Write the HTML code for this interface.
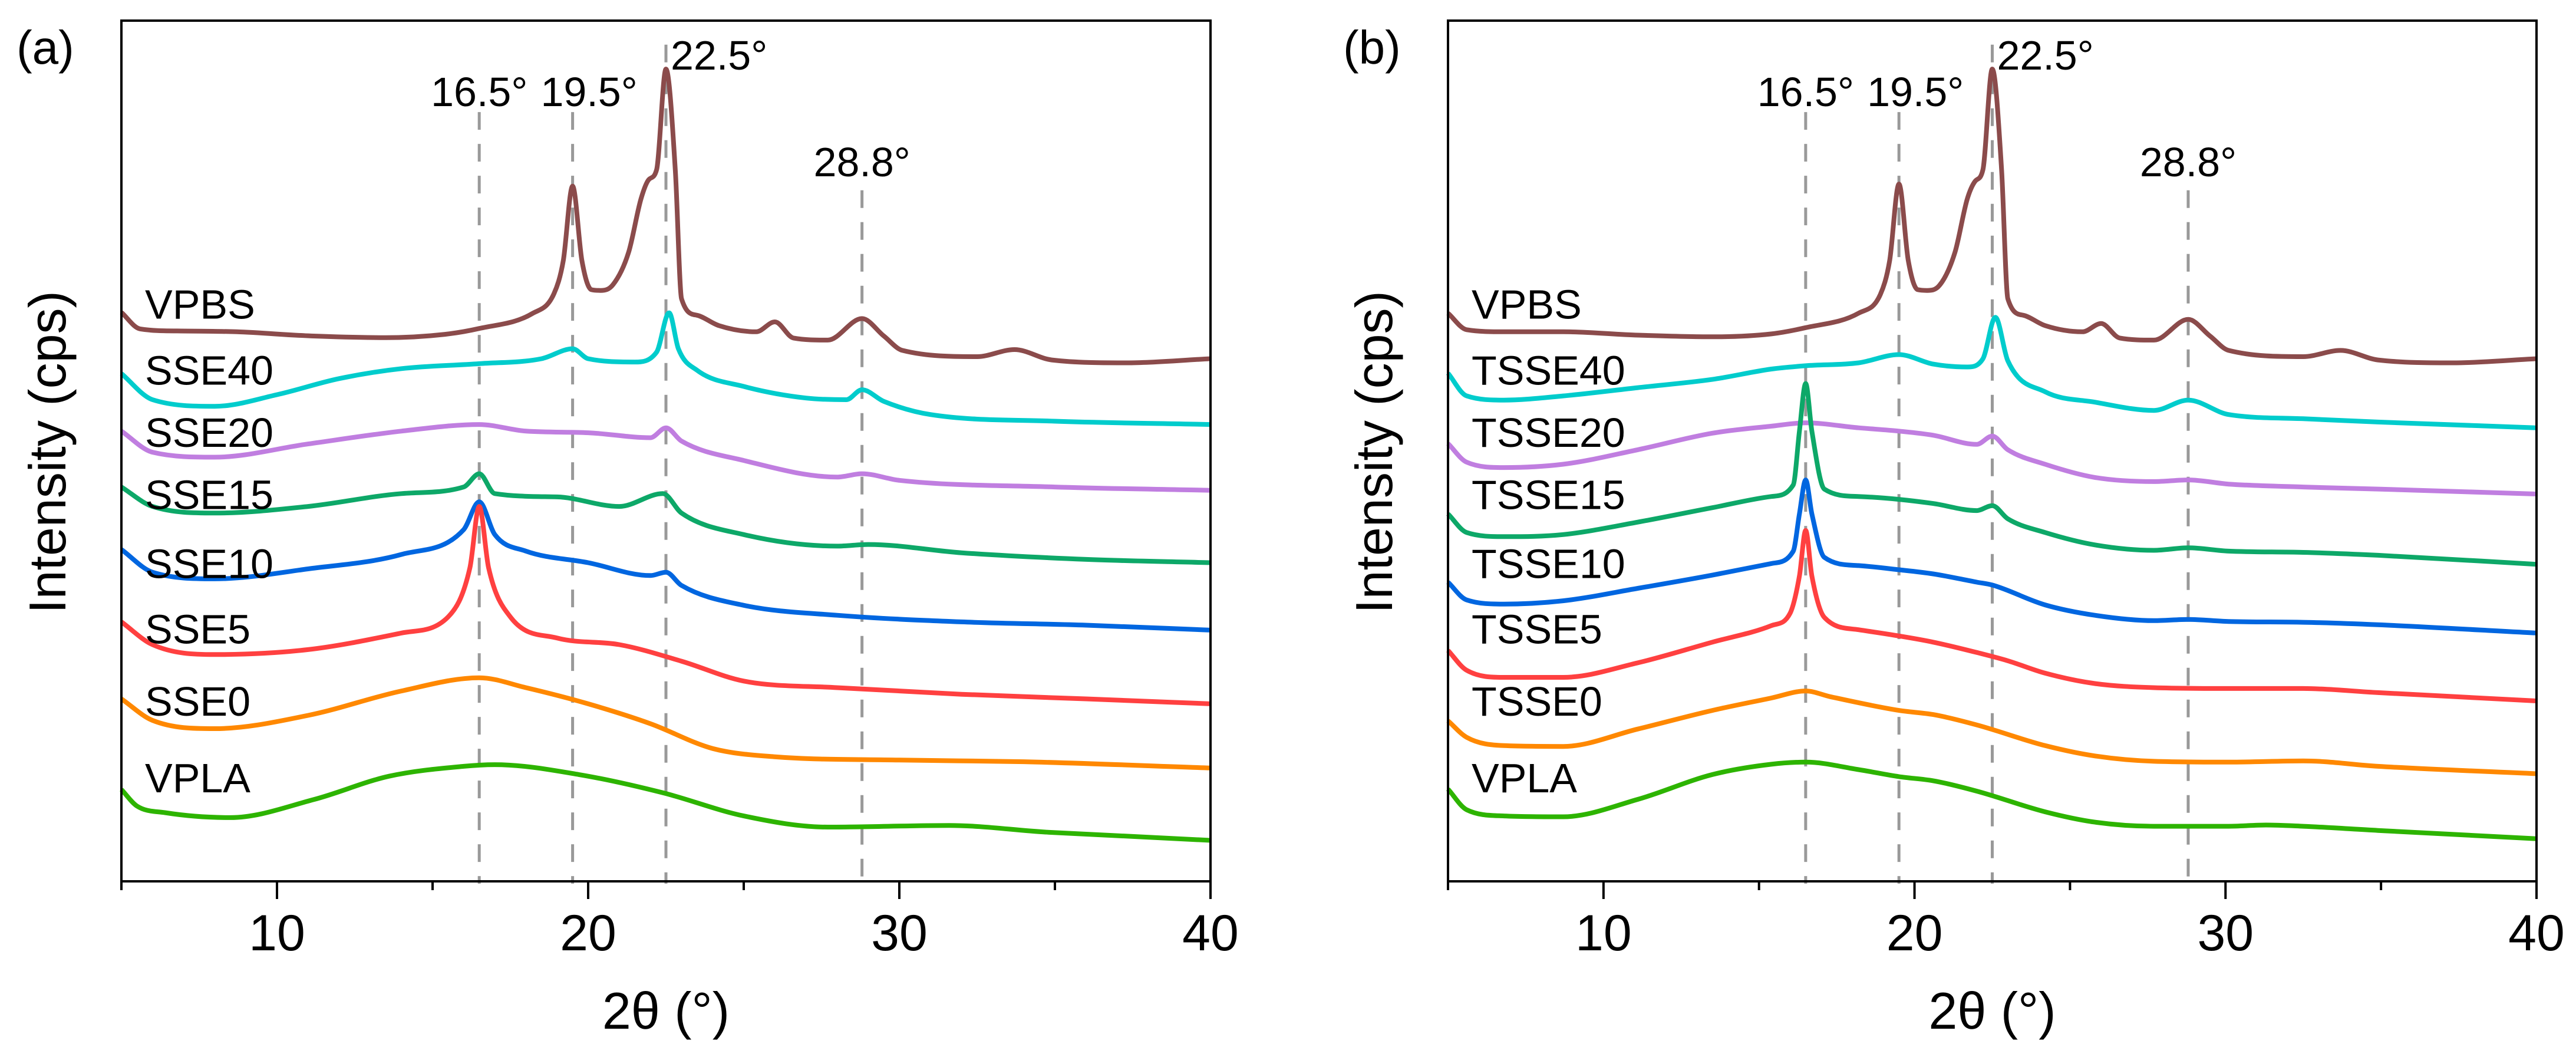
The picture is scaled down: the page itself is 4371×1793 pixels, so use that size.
<!DOCTYPE html>
<html><head><meta charset="utf-8"><style>
html,body{margin:0;padding:0;background:#fff}
svg{display:block}
text{font-family:"Liberation Sans",Arial,sans-serif;fill:#000}
</style></head><body>
<svg id="chart" width="4371" height="1793" viewBox="0 0 4371 1793" xmlns="http://www.w3.org/2000/svg"></svg>
<script>
// ---------- data ----------
const xTicks = [10, 20, 30, 40];
const xMinor = [5, 15, 25, 35];
const tickLabels = ["10", "20", "30", "40"];
const peakPositions = [16.5, 19.5, 22.5, 28.8];
const peakLabels = ["16.5°", "19.5°", "22.5°", "28.8°"];
const peakTops = [1859, 1859, 2022, 1670];
const seriesColors = ["#8B4B4B", "#00CCCC", "#C07EE0", "#0DA868", "#0066E0", "#FF4040", "#FF8800", "#2DB400"];
const namesA = ["VPBS", "SSE40", "SSE20", "SSE15", "SSE10", "SSE5", "SSE0", "VPLA"];
const namesB = ["VPBS", "TSSE40", "TSSE20", "TSSE15", "TSSE10", "TSSE5", "TSSE0", "VPLA"];
const labelIntensity = [1360, 1200, 1050, 900, 733, 575, 400, 215];

const vpbsX = [5,5.6,6.8,8.7,11.1,13.5,15.4,16.5,18.2,18.9,19.2,19.5,19.8,20.1,20.4,20.8,21.3,21.7,21.95,22.2,22.5,22.8,23.0,23.5,24.2,25.4,26.0,26.6,27.7,28.8,29.5,30.1,32.5,33.7,34.9,37.3,40];
const vpbsA = [1375,1335,1330,1328,1318,1314,1322,1336,1372,1420,1500,1680,1500,1430,1428,1442,1520,1650,1696,1720,1963,1720,1408,1368,1343,1328,1352,1313,1308,1360,1318,1283,1268,1285,1260,1253,1263];
const vpbsB = [1373,1333,1328,1328,1320,1316,1323,1338,1373,1418,1500,1685,1500,1430,1428,1440,1520,1650,1692,1720,1963,1720,1408,1368,1343,1328,1348,1313,1308,1358,1318,1283,1268,1283,1260,1253,1263];

const sse40X = [5,6,8,10,12,14,16.5,18.5,19.5,20,21.5,22.2,22.6,22.9,23.5,25,27,28.3,28.8,29.5,31,35,40];
const sse40Y = [1227,1164,1148,1176,1215,1239,1251,1263,1287,1263,1255,1279,1374,1287,1235,1196,1168,1164,1188,1160,1128,1112,1104];
const sse20X = [5,6,8,11,14,16.5,18,20,22,22.5,23,25,28,28.8,30,35,40];
const sse20Y = [1088,1037,1025,1057,1088,1104,1088,1084,1072,1096,1064,1017,977,985,969,953,945];
const sse15X = [5,6,8,11,14,16,16.5,17,19,21,22.4,23,25,28,29,32,36,40];
const sse15Y = [953,906,890,906,937,953,985,937,929,906,937,890,838,810,814,794,778,770];
const sse10X = [5,6,8,11,14,16,16.5,17,18,20,22,22.5,23,25,28,32,36,40];
const sse10Y = [802,747,731,755,790,850,917,838,798,770,739,747,715,667,643,627,619,607];
const sse5X = [5,6,8,11,14,15.5,16.2,16.5,16.8,17.5,19,21,23,25,28,32,36,40];
const sse5Y = [627,572,548,560,600,639,758,906,758,639,588,572,532,484,468,452,441,429];
const sse0X = [5,6,8,11,14,16.5,18,20,22,24,26,30,34,40];
const sse0Y = [441,389,369,401,460,492,468,429,381,321,301,293,289,274];
const vplaAX = [5,5.5,6.4,8.5,11.2,13.6,16,17,19.7,22.4,25,27.7,31.6,34.7,40];
const vplaAY = [222,182,166,154,198,254,278,282,258,214,158,131,135,119,99];

const tsse40X = [5,5.6,6.8,8.7,11.1,13.5,15.4,16.5,18.2,19.5,20.6,21.7,22.2,22.6,23.0,24.2,25.8,27.7,28.8,30.1,32.5,34.9,40];
const tsse40Y = [1228,1173,1163,1173,1193,1213,1238,1246,1253,1273,1250,1243,1263,1363,1258,1183,1158,1138,1163,1128,1118,1110,1096];
const tsse20X = [5,5.6,6.8,8.7,11.1,13.5,15.4,16.5,18.2,19.5,20.6,22.0,22.5,23.0,24.2,25.8,27.7,28.8,30.1,32.5,34.9,40];
const tsse20Y = [1058,1013,1000,1008,1043,1083,1100,1108,1096,1088,1078,1056,1076,1043,1008,976,966,970,960,953,948,936];
const tsse15X = [5,5.6,6.8,8.7,11.1,13.5,15.4,16.1,16.3,16.5,16.7,17.1,18.2,19.5,20.6,22.0,22.5,23.0,24.2,25.8,27.7,28.8,30.1,32.5,34.9,40];
const tsse15Y = [888,843,833,838,868,903,930,958,1088,1203,1088,948,930,923,913,896,908,876,843,813,800,806,798,795,788,766];
const tsse10X = [5,5.6,6.8,8.7,11.1,13.5,15.4,16.1,16.3,16.5,16.7,17.1,18.2,19.5,20.6,22.0,22.5,24.2,25.8,27.7,28.8,30.1,32.5,34.9,40];
const tsse10Y = [723,680,670,678,708,740,768,798,888,970,888,783,763,753,743,723,716,668,643,630,633,628,626,620,600];
const tsse5X = [5,5.6,6.8,8.7,11.1,13.5,15.4,16.0,16.3,16.5,16.7,17.1,18.2,19.5,20.6,22.0,23.0,24.2,25.8,27.7,30.1,32.5,34.9,40];
const tsse5Y = [558,510,493,493,528,578,618,648,738,848,738,638,608,593,578,553,533,503,478,468,466,466,456,436];
const tsse0X = [5,5.6,6.8,8.7,11.1,13.5,15.4,16.5,17.3,19.5,20.6,22.0,24.2,25.8,27.7,30.1,32.5,34.9,40];
const tsse0Y = [388,348,328,326,368,413,443,460,446,413,403,378,328,303,290,288,291,278,260];
const vplaBX = [5,5.6,6.8,8.7,11.1,13.5,15.4,16.5,18.2,19.5,20.6,22.0,24.2,25.8,27.7,30.1,31.3,32.5,34.9,40];
const vplaBY = [223,173,158,156,198,258,283,288,270,253,243,218,168,143,133,133,136,133,123,103];

// ---------- drawing ----------
const NS = "http://www.w3.org/2000/svg";
const svg = document.getElementById("chart");
function mk(tag, attrs, parent) {
  const e = document.createElementNS(NS, tag);
  for (const k in attrs) e.setAttribute(k, attrs[k]);
  (parent || svg).appendChild(e);
  return e;
}
const Y0 = 1495, Y1 = 35, IMAX = 2080;
function yScale(v) { return Y0 - v / IMAX * (Y0 - Y1); }

// monotone cubic path (Fritsch-Carlson) through screen points
function monotonePath(px, py) {
  const n = px.length;
  const d = [], m = [];
  for (let i = 0; i < n - 1; i++) d.push((py[i + 1] - py[i]) / (px[i + 1] - px[i]));
  m[0] = d[0]; m[n - 1] = d[n - 2];
  for (let i = 1; i < n - 1; i++) m[i] = (d[i - 1] * d[i] <= 0) ? 0 : (d[i - 1] + d[i]) / 2;
  for (let i = 0; i < n - 1; i++) {
    if (d[i] === 0) { m[i] = 0; m[i + 1] = 0; continue; }
    const a = m[i] / d[i], b = m[i + 1] / d[i], s = a * a + b * b;
    if (s > 9) { const t = 3 / Math.sqrt(s); m[i] = t * a * d[i]; m[i + 1] = t * b * d[i]; }
  }
  let p = "M" + px[0].toFixed(1) + "," + py[0].toFixed(1);
  for (let i = 0; i < n - 1; i++) {
    const h = (px[i + 1] - px[i]) / 3;
    p += "C" + (px[i] + h).toFixed(1) + "," + (py[i] + m[i] * h).toFixed(1) + " " +
         (px[i + 1] - h).toFixed(1) + "," + (py[i + 1] - m[i + 1] * h).toFixed(1) + " " +
         px[i + 1].toFixed(1) + "," + py[i + 1].toFixed(1);
  }
  return p;
}

function drawPanel(cfg) {
  const L = cfg.left, R = cfg.right;
  const xs = v => L + (v - 5) / 35 * (R - L);
  const g = mk("g", {});
  
  

  peakPositions.forEach((p, i) => {
    const l = mk("line", {x1: xs(p), x2: xs(p), y1: yScale(peakTops[i]), y2: Y0 + 4, stroke: "#999", "stroke-width": 5, "stroke-dasharray": "30 24"}, g);
    
    
  });
  const lblPos = [[0, 180, "middle"], [28, 180, "middle"], [8, 118, "start"], [0, 299, "middle"]];
  peakLabels.forEach((t, i) => {
    const tx = mk("text", {x: xs(peakPositions[i]) + lblPos[i][0], y: lblPos[i][1], "font-size": 70, "text-anchor": lblPos[i][2]}, g);
    tx.textContent = t;
    
    
  });

  cfg.series.forEach((s, i) => {
    const px = s[0].map(xs), py = s[1].map(yScale);
    const p = mk("path", {d: monotonePath(px, py), fill: "none", stroke: seriesColors[i], "stroke-width": 8, "stroke-linejoin": "round"}, g);
    
    
    const t = mk("text", {x: L + 40, y: yScale(labelIntensity[i]), "font-size": 70}, g);
    t.textContent = cfg.names[i];
    
    
  });

  const fr = mk("rect", {x: L, y: Y1, width: R - L, height: Y0 - Y1, fill: "none", stroke: "#000", "stroke-width": 4}, g);
  
  

  xTicks.forEach((v, i) => {
    const t = mk("line", {x1: xs(v), x2: xs(v), y1: Y0, y2: Y0 + 30, stroke: "#000", "stroke-width": 4}, g);
    
    
    const lb = mk("text", {x: xs(v), y: 1612, "font-size": 86, "text-anchor": "middle"}, g);
    lb.textContent = tickLabels[i];
    
    
  });
  xMinor.forEach(v => {
    const t = mk("line", {x1: xs(v), x2: xs(v), y1: Y0, y2: Y0 + 15, stroke: "#000", "stroke-width": 4}, g);
    
    
  });

  const xt = mk("text", {x: (L + R) / 2, y: 1745, "font-size": 88, "text-anchor": "middle"}, g);
  xt.textContent = "2θ (°)";
  
  
  const yt = mk("text", {x: 0, y: 0, "font-size": 88, "text-anchor": "middle", transform: "translate(" + (L - 95) + ",767) rotate(-90)"}, g);
  yt.textContent = "Intensity (cps)";
  
  
  const pl = mk("text", {x: L - 178, y: 108, "font-size": 80}, g);
  pl.textContent = cfg.tag;
  
  
}

drawPanel({id: "panel-a", tag: "(a)", left: 206, right: 2054, names: namesA,
  series: [[vpbsX, vpbsA], [sse40X, sse40Y], [sse20X, sse20Y], [sse15X, sse15Y], [sse10X, sse10Y], [sse5X, sse5Y], [sse0X, sse0Y], [vplaAX, vplaAY]]});
drawPanel({id: "panel-b", tag: "(b)", left: 2457, right: 4304, names: namesB,
  series: [[vpbsX, vpbsB], [tsse40X, tsse40Y], [tsse20X, tsse20Y], [tsse15X, tsse15Y], [tsse10X, tsse10Y], [tsse5X, tsse5Y], [tsse0X, tsse0Y], [vplaBX, vplaBY]]});
</script>
</body></html>
